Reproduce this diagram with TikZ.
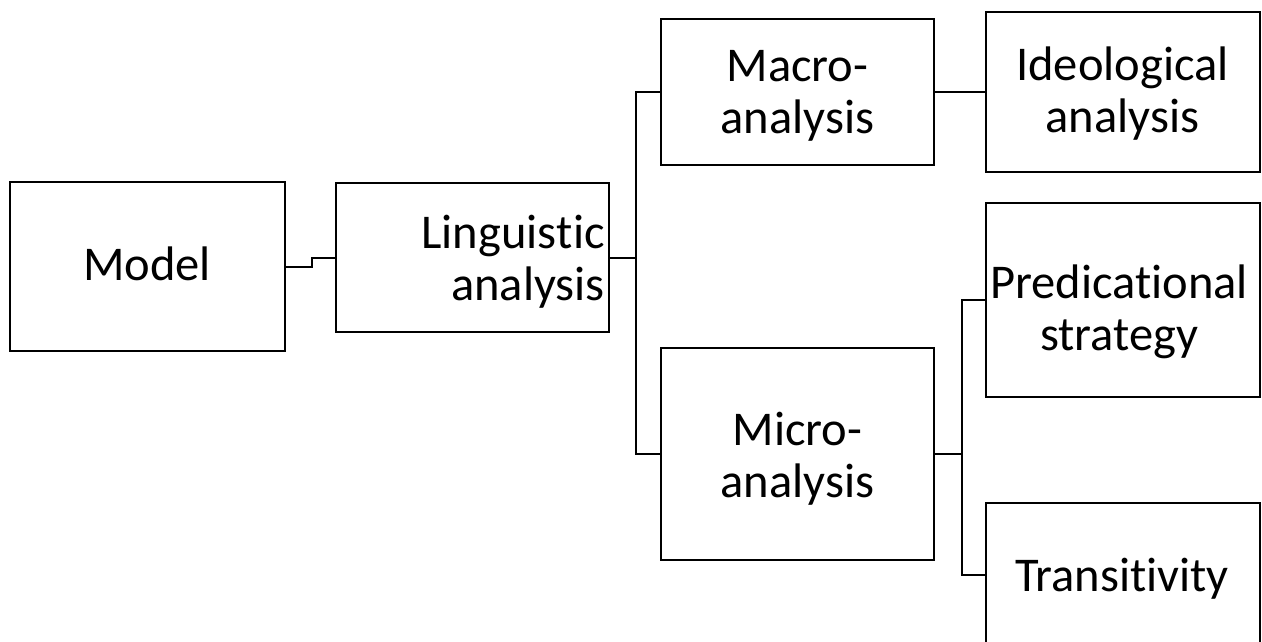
\documentclass[tikz,border=0pt]{standalone}
\usepackage{fontspec}
\setmainfont{Carlito}[Ligatures={NoCommon,NoContextual,NoRare}, RawFeature={-liga;-clig;-calt;-dlig;-hlig}]
\usetikzlibrary{calc}
\tikzset{
  box/.style={draw=black, line width=1.6pt, fill=white, inner sep=0pt, rectangle},
  lbl/.style={inner sep=0pt, align=center, font=\fontsize{48.5}{52}\selectfont},
  wire/.style={draw=black, line width=2pt, line join=miter}
}
\begin{document}
\begin{tikzpicture}[x=1pt, y=-1pt]
  \clip (0,0) rectangle (1262,641);
  \fill[white] (0,0) rectangle (1262,641);

  % boxes
  \node[box, minimum width=275pt, minimum height=169pt] (model) at (147.5,266.5) {};
  \node[box, minimum width=273pt, minimum height=149pt] (ling)  at (472.5,257.5) {};
  \node[box, minimum width=273pt, minimum height=146pt] (macro) at (797.5,92) {};
  \node[box, minimum width=273pt, minimum height=212pt] (micro) at (797.5,454) {};
  \node[box, minimum width=274pt, minimum height=160pt] (ideo)  at (1123,92) {};
  \node[box, minimum width=274pt, minimum height=194pt] (pred)  at (1123,300) {};
  \node[box, minimum width=274pt, minimum height=144pt] (trans) at (1123,575) {};

  % labels
  \node[lbl] (tmodel) at (147,264) {Model};
  \node[lbl, align=right, anchor=east] (tling) at (605,261.5) {Lingu\kern0ptis\kern0ptt\kern0ptic\\analysis};
  \node[lbl] (tmacro) at (797.5,96) {Macro-\\analysis};
  \node[lbl] (tmicro) at (797.5,458.5) {Micro-\\analysis};
  \node[lbl] (tideo)  at (1122.5,94) {Ideological\\analysis};
  \node[lbl] (tpred)  at (1119,312) {Predicat\kern0ptional\\strategy};
  \node[lbl] (ttrans) at (1122,579) {Transit\kern0ptivit\kern0pty};

  % connectors
  \draw[wire] (model.east) -- ++(26,0) |- (ling.west);
  \draw[wire] (ling.east) -- ++(26,0) coordinate (j1);
  \draw[wire] (macro.west) -| (j1) |- (micro.west);
  \draw[wire] (macro.east) -- (ideo.west);
  \draw[wire] (micro.east) -- ++(27,0) coordinate (j2);
  \draw[wire] (pred.west) -| (j2) |- (trans.west);
\end{tikzpicture}
\end{document}
